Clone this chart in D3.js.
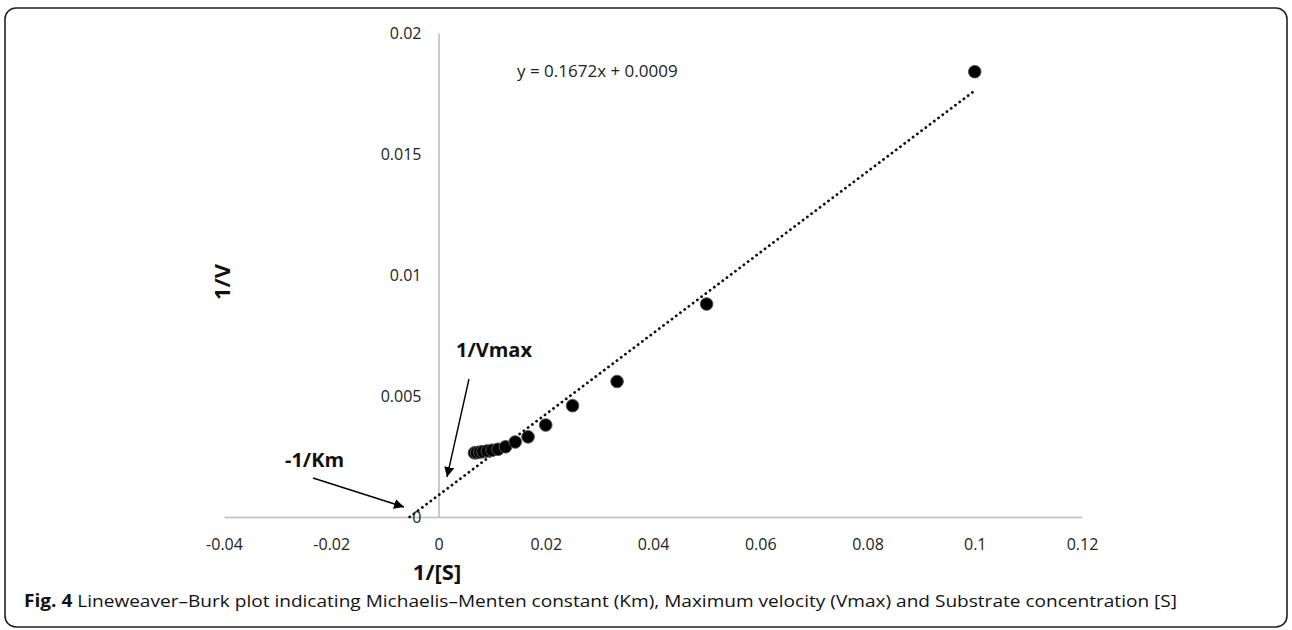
<!DOCTYPE html>
<html>
<head>
<meta charset="utf-8">
<script src="https://cdn.jsdelivr.net/npm/d3@7"></script>
<style>
  html, body { margin: 0; padding: 0; background: #fff; }
  svg { display: block; }
</style>
</head>
<body>
<svg id="chart" width="1292" height="630"></svg>
<script>
// data (1/[S] vs 1/V)
const invS = [0.0067, 0.0071, 0.0077, 0.0083, 0.0091, 0.01, 0.0111, 0.0125, 0.0143, 0.0167, 0.02, 0.025, 0.0333, 0.05, 0.1];
const invV = [0.00265, 0.00266, 0.00268, 0.0027, 0.00273, 0.00276, 0.0028, 0.0029, 0.0031, 0.00331, 0.0038, 0.0046, 0.0056, 0.0088, 0.0184];

const slope = 0.1672;
const intercept = 0.0009;
const fitRange = [-intercept / slope, 0.1];

const xTicks = [-0.04, -0.02, 0, 0.02, 0.04, 0.06, 0.08, 0.1, 0.12];
const xTickLabels = ['-0.04', '-0.02', '0', '0.02', '0.04', '0.06', '0.08', '0.1', '0.12'];
const yTicks = [0, 0.005, 0.01, 0.015, 0.02];
const yTickLabels = ['0', '0.005', '0.01', '0.015', '0.02'];

const svg = d3.select('#chart');

const x = d3.scaleLinear().domain([-0.04, 0.12]).range([224, 1082]);
const y = d3.scaleLinear().domain([0, 0.02]).range([517, 33]);

const tickFont = '"Open Sans", sans-serif';

// frame
svg.append('rect')
  .attr('x', 5).attr('y', 8)
  .attr('width', 1282).attr('height', 619)
  .attr('rx', 11).attr('ry', 11)
  .attr('fill', 'none')
  .attr('stroke', '#222')
  .attr('stroke-width', 1.6);

// x axis
const xAxis = svg.append('g')
  .attr('transform', `translate(0,${y(0)})`)
  .call(d3.axisBottom(x).tickValues(xTicks).tickSize(0).tickPadding(22)
    .tickFormat((d, i) => xTickLabels[i]));
xAxis.select('.domain').attr('stroke', '#bdbdbd').attr('stroke-width', 1.6);
xAxis.selectAll('text')
  .attr('font-family', tickFont).attr('font-size', 16).attr('fill', '#222');

// y axis
const yAxis = svg.append('g')
  .attr('transform', `translate(${x(0)},0)`)
  .call(d3.axisLeft(y).tickValues(yTicks).tickSize(0).tickPadding(17)
    .tickFormat((d, i) => yTickLabels[i]));
yAxis.select('.domain').attr('stroke', '#bdbdbd').attr('stroke-width', 1.6);
yAxis.selectAll('text')
  .attr('font-family', tickFont).attr('font-size', 16).attr('fill', '#222');

// trend line
svg.append('line')
  .attr('x1', x(fitRange[0])).attr('y1', y(slope * fitRange[0] + intercept))
  .attr('x2', x(fitRange[1])).attr('y2', y(slope * fitRange[1] + intercept))
  .attr('stroke', '#111')
  .attr('stroke-width', 2.8)
  .attr('stroke-linecap', 'round')
  .attr('stroke-dasharray', '0.1 5.2');

// points
svg.append('g').selectAll('circle')
  .data(invS.map((d, i) => [d, invV[i]]))
  .join('circle')
  .attr('cx', d => x(d[0]))
  .attr('cy', d => y(d[1]))
  .attr('r', 6.3)
  .attr('fill', '#000')
  .attr('stroke', '#555')
  .attr('stroke-width', 1);

// equation
svg.append('text')
  .attr('x', 517).attr('y', 77)
  .attr('font-family', tickFont).attr('font-size', 17).attr('fill', '#222')
  .text('y = 0.1672x + 0.0009');

// axis titles
svg.append('text')
  .attr('x', 437).attr('y', 580)
  .attr('text-anchor', 'middle')
  .attr('font-family', tickFont).attr('font-weight', 'bold').attr('font-size', 22)
  .attr('fill', '#111')
  .text('1/[S]');

svg.append('text')
  .attr('transform', 'translate(230,282) rotate(-90)')
  .attr('text-anchor', 'middle')
  .attr('font-family', tickFont).attr('font-weight', 'bold').attr('font-size', 22)
  .attr('fill', '#111')
  .text('1/V');

// annotations
const defs = svg.append('defs');
defs.append('marker')
  .attr('id', 'head')
  .attr('viewBox', '0 0 10 10')
  .attr('refX', 10).attr('refY', 5)
  .attr('markerWidth', 10).attr('markerHeight', 10)
  .attr('markerUnits', 'userSpaceOnUse')
  .attr('orient', 'auto')
  .append('path').attr('d', 'M0,0L10,5L0,10Z').attr('fill', '#000');

svg.append('text')
  .attr('x', 456).attr('y', 357)
  .attr('font-family', tickFont).attr('font-weight', 'bold').attr('font-size', 20)
  .attr('fill', '#111')
  .text('1/Vmax');

svg.append('line')
  .attr('x1', 469).attr('y1', 379)
  .attr('x2', 447).attr('y2', 477)
  .attr('stroke', '#000').attr('stroke-width', 1.4)
  .attr('marker-end', 'url(#head)');

svg.append('text')
  .attr('x', 285).attr('y', 467)
  .attr('font-family', tickFont).attr('font-weight', 'bold').attr('font-size', 20)
  .attr('fill', '#111')
  .text('-1/Km');

svg.append('line')
  .attr('x1', 313).attr('y1', 478)
  .attr('x2', 404).attr('y2', 507)
  .attr('stroke', '#000').attr('stroke-width', 1.4)
  .attr('marker-end', 'url(#head)');

// caption
const cap = svg.append('text')
  .attr('x', 24).attr('y', 607)
  .attr('font-family', tickFont).attr('font-size', 17).attr('fill', '#111')
  .attr('textLength', 1153).attr('lengthAdjust', 'spacingAndGlyphs');
cap.append('tspan').attr('font-weight', 'bold').text('Fig. 4');
cap.append('tspan').text(' Lineweaver\u2013Burk plot indicating Michaelis\u2013Menten constant (Km), Maximum velocity (Vmax) and Substrate concentration [S]');
</script>
</body>
</html>
